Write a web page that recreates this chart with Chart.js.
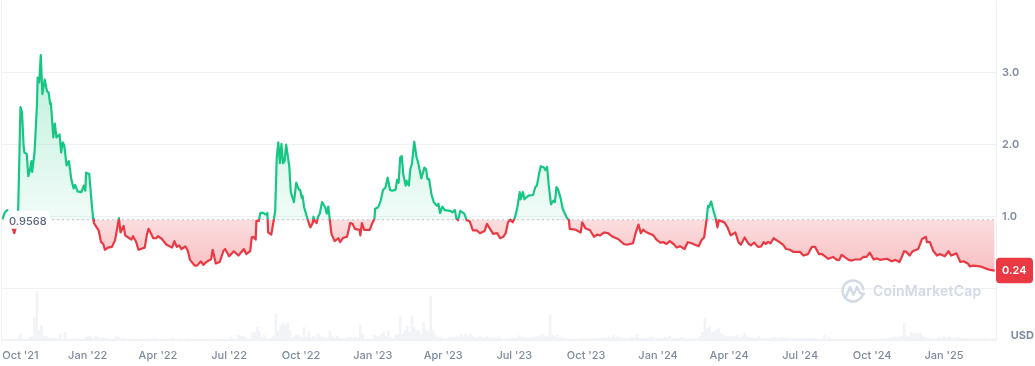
<!DOCTYPE html>
<html>
<head>
<meta charset="utf-8">
<title>Price chart</title>
<script src="https://cdn.jsdelivr.net/npm/chart.js@4/dist/chart.umd.min.js"></script>
<style>
    html, body { margin: 0; padding: 0; background: #fff; }
    canvas { display: block; }
</style>
</head>
<body>
<canvas id="priceChart" width="1035" height="366"></canvas>
<script>
// days are counted from 1 Oct 2021
const tickDays = [6, 92, 182, 273, 365, 457, 547, 638, 730, 822, 913, 1004, 1096, 1188];
const tickLabels = ["Oct '21", "Jan '22", "Apr '22", "Jul '22", "Oct '22", "Jan '23", "Apr '23", "Jul '23", "Oct '23", "Jan '24", "Apr '24", "Jul '24", "Oct '24", "Jan '25"];
const priceTicks = [0, 1, 2, 3];
const baselinePrice = 0.9568;
const baselineLabel = '0.9568';
const lastPriceLabel = '0.24';
const currency = 'USD';
const brand = 'CoinMarketCap';

const priceDays = [
    -17,-14,-11,-7,-2,0,3,6,8,10,
    11,14,16,18,20,21,24,27,28,30,
    32,34,37,40,42,44,45,48,50,52,
    56,58,60,62,65,68,71,74,76,79,
    84,87,89,90,94,97,99,100,106,109,
    112,114,118,123,127,130,132,134,138,140,
    144,148,150,152,154,157,165,168,170,176,
    180,182,187,193,200,203,206,209,212,217,
    220,223,229,232,237,240,244,250,252,256,
    261,266,268,273,279,285,292,295,300,302,
    304,307,308,311,313,316,320,322,323,327,
    330,332,334,336,338,340,342,344,346,350,
    352,356,359,362,364,366,367,369,374,377,
    380,381,383,385,387,389,392,396,398,400,
    402,404,408,413,415,419,424,428,431,434,
    440,441,443,446,449,453,456,459,460,464,
    467,470,473,476,479,482,486,488,490,492,
    494,496,499,500,503,505,507,510,513,515,
    519,523,525,527,529,532,535,539,541,543,
    546,549,556,559,562,564,566,569,574,577,
    581,585,590,594,600,603,607,611,616,620,
    624,627,630,633,636,639,642,645,646,649,
    651,656,662,665,667,670,672,676,678,680,
    682,685,688,690,692,694,697,700,705,708,
    709,716,723,725,729,735,740,744,748,753,
    758,764,771,778,782,790,793,797,800,803,
    806,810,816,820,825,829,833,837,842,846,
    850,856,860,865,874,878,881,884,886,887,
    890,893,896,898,900,907,911,915,921,925,
    928,933,938,941,945,950,954,957,960,963,
    966,970,974,982,986,991,995,1004,1008,1014,
    1019,1023,1028,1032,1040,1046,1051,1054,1057,1062,
    1066,1070,1074,1081,1085,1089,1093,1098,1102,1106,
    1115,1121,1126,1131,1134,1137,1140,1144,1148,1155,
    1160,1165,1166,1170,1174,1179,1182,1185,1189,1194,
    1197,1204,1209,1213,1219,1221,1226,1234,1243,1247,1253
];
const prices = [
    .97,1.06,1.09,.95,.77,.85,1.08,2.52,2.44,1.98,
    1.89,1.87,1.56,1.64,1.77,1.62,1.89,2.53,2.93,2.86,
    3.24,2.70,2.90,2.74,2.72,2.56,2.57,2.10,2.29,2.10,
    2.14,1.89,2.03,1.99,1.71,1.77,1.52,1.39,1.44,1.35,
    1.34,1.43,1.36,1.61,1.59,1.20,.97,.91,.81,.65,
    .62,.54,.57,.58,.67,.85,.98,.78,.87,.74,
    .71,.68,.73,.69,.65,.54,.57,.76,.83,.70,
    .70,.73,.69,.61,.57,.66,.58,.60,.55,.585,
    .53,.40,.32,.32,.38,.33,.37,.41,.54,.35,
    .37,.53,.55,.45,.52,.46,.55,.48,.52,.71,
    .72,.68,.94,.94,1.05,1.055,1.03,1.05,.78,.75,
    .94,1.08,1.82,2.03,1.74,2.01,1.74,1.77,2.0,1.70,
    1.34,1.20,1.47,1.38,1.37,1.26,1.29,1.13,.945,.85,
    .91,1.0,.935,.91,1.0,1.04,1.20,1.13,1.04,1.14,
    .945,.76,.66,.70,.645,.705,.72,.91,.90,.83,
    .815,.74,.91,.815,.815,.815,.90,.97,1.11,1.13,
    1.22,1.37,1.40,1.54,1.37,1.36,1.37,1.51,1.47,1.82,
    1.84,1.58,1.43,1.50,1.43,1.66,1.73,2.04,1.82,1.75,
    1.53,1.68,1.66,1.52,1.52,1.31,1.20,1.15,1.18,1.05,
    1.14,1.09,1.08,1.06,1.09,.97,.95,1.08,1.04,.95,
    .935,.81,.81,.77,.80,.90,.83,.76,.77,.70,
    .72,.77,.92,.96,.92,.99,1.13,1.34,1.24,1.34,
    1.24,1.29,1.30,1.41,1.43,1.61,1.70,1.68,1.645,1.69,
    1.45,1.17,1.22,1.20,1.41,1.38,1.27,1.11,.99,.95,
    .83,.82,.78,.92,.84,.81,.72,.75,.74,.78,
    .77,.72,.69,.62,.61,.63,.76,.89,.77,.82,
    .79,.77,.74,.68,.64,.645,.62,.66,.62,.57,
    .59,.55,.645,.63,.59,.68,.71,.945,1.15,1.13,
    1.21,1.08,.97,.85,.95,.92,.85,.74,.78,.645,
    .61,.71,.62,.60,.64,.58,.585,.645,.62,.65,
    .63,.70,.67,.61,.55,.54,.51,.51,.46,.48,
    .58,.58,.48,.48,.415,.44,.40,.40,.47,.43,
    .40,.39,.405,.405,.44,.44,.50,.405,.42,.40,
    .415,.38,.40,.37,.44,.52,.51,.46,.52,.55,
    .69,.72,.645,.645,.53,.46,.48,.47,.45,.52,
    .46,.49,.37,.38,.345,.31,.32,.31,.275,.26,.25
];

// one reading every 3 days, in relative units
const volumeStartDay = -18;
const volumeStepDays = 3;
const volumes = [
    1,1,1,1,1,1,1,6,18,3,2,3,8,10,68,144,28,45,12,12,
    5,6,5,6,4,16,1,22,2,1,1,4,3,3,2,3,8,12,10,5,
    12,8,6,7,5,3,3,2,3,12,9,3,6,1,3,3,2,3,1,1,
    1,2,4,3,1,6,4,2,1,1,1,3,2,6,1,1,4,1,1,3,
    3,1,1,1,1,1,1,1,1,3,2,3,1,3,2,1,1,2,7,3,
    1,15,12,10,8,2,2,22,22,38,25,8,14,3,3,5,12,78,25,42,
    50,45,52,30,8,12,14,10,8,38,8,25,6,10,8,18,12,8,8,6,
    28,10,5,12,6,5,3,5,8,8,4,8,5,45,18,2,2,3,3,14,
    10,10,16,24,10,28,8,5,14,16,70,18,28,42,24,72,38,28,28,18,
    55,28,26,132,28,14,10,8,4,4,4,9,10,8,12,8,16,10,18,10,
    18,12,8,8,10,8,6,12,8,6,8,6,10,6,
    2,3,5,4,6,5,6,14,9,8,6,6,8,8,10,10,14,18,10,12,
    75,14,10,14,8,7,5,4,3,3,2,3,2,3,4,2,4,3,5,3,
    6,4,5,8,4,10,6,14,8,12,8,6,5,4,6,7,6,16,5,5,
    4,5,6,8,6,4,4,5,6,8,6,12,5,6,4,4,8,6,3,4,
    3,3,4,6,10,22,65,35,40,22,25,30,36,20,14,12,10,12,8,10,
    14,8,12,20,10,8,7,6,5,10,4,5,4,3,6,7,8,6,5,8,
    7,6,5,6,4,5,6,5,4,6,5,6,4,4,3,3,3,14,3,8,
    3,3,2,2,1,1,1,1,2,1,1,2,1,2,3,2,1,2,3,1,
    2,3,4,3,2,4,7,10,8,12,10,52,12,10,24,18,20,16,20,10,
    8,6,5,4,3,5,7,5,10,8,12,8,5,6,8,5,4,4,5,3,
    3,4,3,4,3,4,5,4,3,4,3,4,5
];

const GREEN = '#16c784';
const RED = '#ea3943';
const GRID = '#eff2f5';
const VOLUME = '#f1f3f6';
const MUTED = '#808a9d';
const FONT = 'Inter, sans-serif';

// labels, badge and watermark that sit on top of the plot
const overlayPlugin = {
    id: 'overlay',
    beforeDraw(chart) {
        const { ctx, chartArea } = chart;
        ctx.save();
        ctx.strokeStyle = GRID;
        ctx.lineWidth = 1;
        ctx.beginPath();
        ctx.moveTo(1.5, chartArea.top);
        ctx.lineTo(1.5, chartArea.bottom);
        ctx.stroke();
        ctx.restore();
    },
    afterDraw(chart) {
        const { ctx, scales } = chart;
        const baseY = scales.y.getPixelForValue(baselinePrice);
        const lastY = scales.y.getPixelForValue(prices[prices.length - 1]);
        ctx.save();

        // baseline label
        ctx.fillStyle = 'rgba(255,255,255,0.95)';
        ctx.beginPath();
        ctx.roundRect(6, baseY - 9, 44, 18, 4);
        ctx.fill();
        ctx.fillStyle = '#58667e';
        ctx.font = '500 11px ' + FONT;
        ctx.textBaseline = 'middle';
        ctx.textAlign = 'left';
        ctx.fillText(baselineLabel, 9, baseY + 1.5);

        // last price badge
        ctx.fillStyle = RED;
        ctx.beginPath();
        ctx.roundRect(996, lastY - 13, 37, 25.5, 4);
        ctx.fill();
        ctx.fillStyle = '#fff';
        ctx.font = '600 11px ' + FONT;
        ctx.fillText(lastPriceLabel, 1002, lastY + 0.5);

        // currency
        ctx.fillStyle = MUTED;
        ctx.font = '700 11px ' + FONT;
        ctx.textAlign = 'right';
        ctx.fillText(currency, 1034, 336);

        // watermark
        ctx.strokeStyle = '#d3dae6';
        ctx.fillStyle = '#d3dae6';
        ctx.lineWidth = 2.4;
        ctx.lineCap = 'round';
        ctx.lineJoin = 'round';
        ctx.beginPath();
        ctx.arc(853, 291, 10.5, 0.1 * Math.PI, 1.95 * Math.PI);
        ctx.stroke();
        ctx.beginPath();
        ctx.moveTo(846, 297);
        ctx.lineTo(850, 287);
        ctx.lineTo(853.5, 295);
        ctx.lineTo(857, 287);
        ctx.lineTo(860, 293);
        ctx.lineTo(864, 294);
        ctx.stroke();
        ctx.font = '600 14px ' + FONT;
        ctx.textAlign = 'left';
        ctx.letterSpacing = '0.2px';
        ctx.fillText(brand, 873, 292);
        ctx.restore();
    }
};

const chart = new Chart(document.getElementById('priceChart').getContext('2d'), {
    data: {
        datasets: [
            {
                type: 'line',
                data: [
                    { x: priceDays[0], y: baselinePrice },
                    { x: priceDays[priceDays.length - 1], y: baselinePrice }
                ],
                borderColor: '#808a9d',
                borderWidth: 1,
                borderDash: [1, 4],
                pointRadius: 0,
                order: 0
            },
            {
                type: 'line',
                data: priceDays.map((d, i) => ({ x: d, y: prices[i] })),
                borderColor: GREEN,
                borderWidth: 2.2,
                pointRadius: 0,
                tension: 0,
                borderJoinStyle: 'round',
                fill: { target: { value: baselinePrice }, above: 'rgba(22,199,132,0.1)', below: 'rgba(234,57,67,0.2)' },
                order: 1
            },
            {
                type: 'bar',
                yAxisID: 'yVol',
                data: volumes.map((v, i) => ({ x: volumeStartDay + i * volumeStepDays, y: v })),
                backgroundColor: VOLUME,
                barThickness: 2,
                order: 2
            }
        ]
    },
    options: {
        responsive: false,
        animation: false,
        layout: { padding: { left: 1.5, top: 0, right: 0, bottom: 0 } },
        plugins: { legend: { display: false }, tooltip: { enabled: false } },
        scales: {
            x: {
                type: 'linear',
                offset: false,
                min: -18.3,
                max: 1254.6,
                grid: { display: false, offset: false, drawTicks: false },
                border: { display: true, color: GRID },
                afterBuildTicks(axis) { axis.ticks = tickDays.map(v => ({ value: v })); },
                afterFit(axis) {
                    axis.height = 26;
                    axis.paddingLeft = 0;
                    axis.paddingRight = 0;
                },
                ticks: {
                    autoSkip: false,
                    maxRotation: 0,
                    padding: 9,
                    color: MUTED,
                    font: { family: FONT, size: 11, weight: '500' },
                    callback: (v, i) => tickLabels[i]
                }
            },
            y: {
                position: 'right',
                min: -0.712,
                max: 3.99,
                grid: { color: GRID, drawTicks: false },
                border: { display: true, color: GRID },
                afterBuildTicks(axis) { axis.ticks = priceTicks.map(v => ({ value: v })); },
                afterFit(axis) {
                    axis.width = 39;
                    axis.paddingTop = 0;
                    axis.paddingBottom = 0;
                },
                ticks: {
                    padding: 6,
                    color: MUTED,
                    font: { family: FONT, size: 11, weight: '600' },
                    callback: v => (v === 0 ? '' : v.toFixed(1))
                }
            },
            yVol: { display: false, min: 0, max: 1020 }
        }
    },
    plugins: [overlayPlugin]
});

// gradients need the laid out scale, so they go in once the chart exists
function applyGradients() {
    const { ctx, chartArea, scales } = chart;
    const baseY = scales.y.getPixelForValue(baselinePrice);
    const stop = (baseY - chartArea.top) / (chartArea.bottom - chartArea.top);

    const lineGrad = ctx.createLinearGradient(0, chartArea.top, 0, chartArea.bottom);
    lineGrad.addColorStop(0, GREEN);
    lineGrad.addColorStop(stop, GREEN);
    lineGrad.addColorStop(stop, RED);
    lineGrad.addColorStop(1, RED);

    const above = ctx.createLinearGradient(0, scales.y.getPixelForValue(3.2), 0, baseY);
    above.addColorStop(0, 'rgba(22,199,132,0.28)');
    above.addColorStop(1, 'rgba(22,199,132,0.06)');

    const below = ctx.createLinearGradient(0, baseY, 0, scales.y.getPixelForValue(0.25));
    below.addColorStop(0, 'rgba(234,57,67,0.17)');
    below.addColorStop(1, 'rgba(234,57,67,0.32)');

    const ds = chart.data.datasets[1];
    ds.borderColor = lineGrad;
    ds.fill = { target: { value: baselinePrice }, above: above, below: below };
    chart.update('none');
}
applyGradients();
</script>
</body>
</html>
